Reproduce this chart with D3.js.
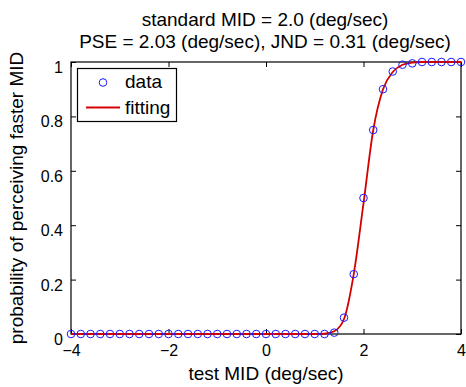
<!DOCTYPE html>
<html>
<head>
<meta charset="utf-8">
<script src="https://cdn.jsdelivr.net/npm/d3@7/dist/d3.min.js"></script>
<style>
  body { margin: 0; background: #fff; }
  text { font-family: "Liberation Sans", Arial, sans-serif; fill: #000; }
</style>
</head>
<body>
<div id="chart"></div>
<script>
'use strict';

// test speeds, step 0.2 from -4 to 4
const testMid = [-4, -3.8, -3.6, -3.4, -3.2, -3, -2.8, -2.6, -2.4, -2.2, -2, -1.8, -1.6, -1.4, -1.2, -1,
  -0.8, -0.6, -0.4, -0.2, 0, 0.2, 0.4, 0.6, 0.8, 1, 1.2, 1.4, 1.6, 1.8, 2, 2.2, 2.4, 2.6, 2.8, 3,
  3.2, 3.4, 3.6, 3.8, 4];
const dataProb = [0, 0, 0, 0, 0, 0, 0, 0, 0, 0, 0, 0, 0, 0, 0, 0,
  0, 0, 0, 0, 0, 0, 0, 0, 0, 0, 0, 0.005, 0.06, 0.22, 0.5, 0.75, 0.9, 0.965, 0.99, 0.995,
  1, 1, 1, 1, 1];
const fitProb = [0, 0, 0, 0, 0, 0, 0, 0, 0, 0, 0, 0, 0, 0, 0, 0,
  0, 0, 0, 0, 0, 0, 0, 0, 0, 0, 0.001, 0.01, 0.055, 0.22, 0.48, 0.75, 0.9, 0.963, 0.99, 0.998,
  1, 1, 1, 1, 1];
const xTicks = [-4, -2, 0, 2, 4];
const yTicks = [0, 0.2, 0.4, 0.6, 0.8, 1];
const titleLines = ['standard MID = 2.0 (deg/sec)', 'PSE = 2.03 (deg/sec), JND = 0.31 (deg/sec)'];

const width = 466, height = 387;
const mLeft = 71, mRight = 461, mTop = 62, mBottom = 334;

const svg = d3.select('#chart').append('svg')
  .attr('width', width)
  .attr('height', height);

const x = d3.scaleLinear().domain([-4, 4]).range([mLeft, mRight]);
const y = d3.scaleLinear().domain([0, 1]).range([mBottom, mTop]);

// axes with inward ticks, mirrored on top/right
svg.append('g').attr('transform', `translate(0,${mBottom})`)
  .call(d3.axisBottom(x).tickValues(xTicks).tickSizeInner(-5).tickSizeOuter(0).tickPadding(11).tickFormat(d3.format('d')));
const yAxis = svg.append('g').attr('transform', `translate(${mLeft},0)`)
  .call(d3.axisLeft(y).tickValues(yTicks).tickSizeInner(-5).tickSizeOuter(0).tickPadding(8).tickFormat(d => d === 0 || d === 1 ? d3.format('d')(d) : d3.format('.1f')(d)));
yAxis.selectAll('.tick text').attr('dy', '0.66em');
svg.append('g').attr('transform', `translate(0,${mTop})`)
  .call(d3.axisTop(x).tickValues(xTicks).tickSizeInner(-5).tickSizeOuter(0).tickFormat(''));
svg.append('g').attr('transform', `translate(${mRight},0)`)
  .call(d3.axisRight(y).tickValues(yTicks).tickSizeInner(-5).tickSizeOuter(0).tickFormat(''));

svg.selectAll('.domain').remove();
svg.selectAll('.tick line').attr('stroke', '#000');
svg.selectAll('.tick text').attr('font-size', 16).attr('fill', '#000')
  .style('font-family', '"Liberation Sans", Arial, sans-serif');

svg.append('rect')
  .attr('x', mLeft).attr('y', mTop)
  .attr('width', mRight - mLeft).attr('height', mBottom - mTop)
  .attr('fill', 'none').attr('stroke', '#000').attr('stroke-width', 1.2);

// fitted curve
const line = d3.line()
  .x((d, i) => x(testMid[i]))
  .y(d => y(d))
  .curve(d3.curveMonotoneX);
svg.append('path')
  .datum(fitProb)
  .attr('d', line)
  .attr('fill', 'none')
  .attr('stroke', '#d40000')
  .attr('stroke-width', 1.8);

// data points
svg.append('g')
  .selectAll('circle')
  .data(dataProb)
  .enter()
  .append('circle')
  .attr('cx', (d, i) => x(testMid[i]))
  .attr('cy', d => y(d))
  .attr('r', 3.8)
  .attr('fill', 'none')
  .attr('stroke', '#1a1aff')
  .attr('stroke-width', 1);

// legend
const lg = svg.append('g');
lg.append('rect')
  .attr('x', 77.5).attr('y', 68.5).attr('width', 99).attr('height', 53)
  .attr('fill', '#fff').attr('stroke', '#000').attr('stroke-width', 1.2);
lg.append('circle')
  .attr('cx', 103).attr('cy', 82.5).attr('r', 3.8)
  .attr('fill', 'none').attr('stroke', '#1a1aff');
lg.append('text').attr('x', 125).attr('y', 88).attr('font-size', 19).text('data');
lg.append('line')
  .attr('x1', 86).attr('x2', 120).attr('y1', 107.5).attr('y2', 107.5)
  .attr('stroke', '#d40000').attr('stroke-width', 1.8);
lg.append('text').attr('x', 125).attr('y', 114).attr('font-size', 19).text('fitting');

// titles
svg.selectAll('.title')
  .data(titleLines)
  .enter()
  .append('text')
  .attr('class', 'title')
  .attr('x', (mLeft + mRight) / 2 - 1)
  .attr('y', (d, i) => 25.5 + i * 22.5)
  .attr('text-anchor', 'middle')
  .attr('font-size', 19)
  .text(d => d);

svg.append('text')
  .attr('x', (mLeft + mRight) / 2)
  .attr('y', 380)
  .attr('text-anchor', 'middle')
  .attr('font-size', 19)
  .text('test MID (deg/sec)');

svg.append('text')
  .attr('transform', `translate(23,${(mTop + mBottom) / 2}) rotate(-90)`)
  .attr('text-anchor', 'middle')
  .attr('font-size', 19)
  .text('probability of perceiving faster MID');
</script>
</body>
</html>
